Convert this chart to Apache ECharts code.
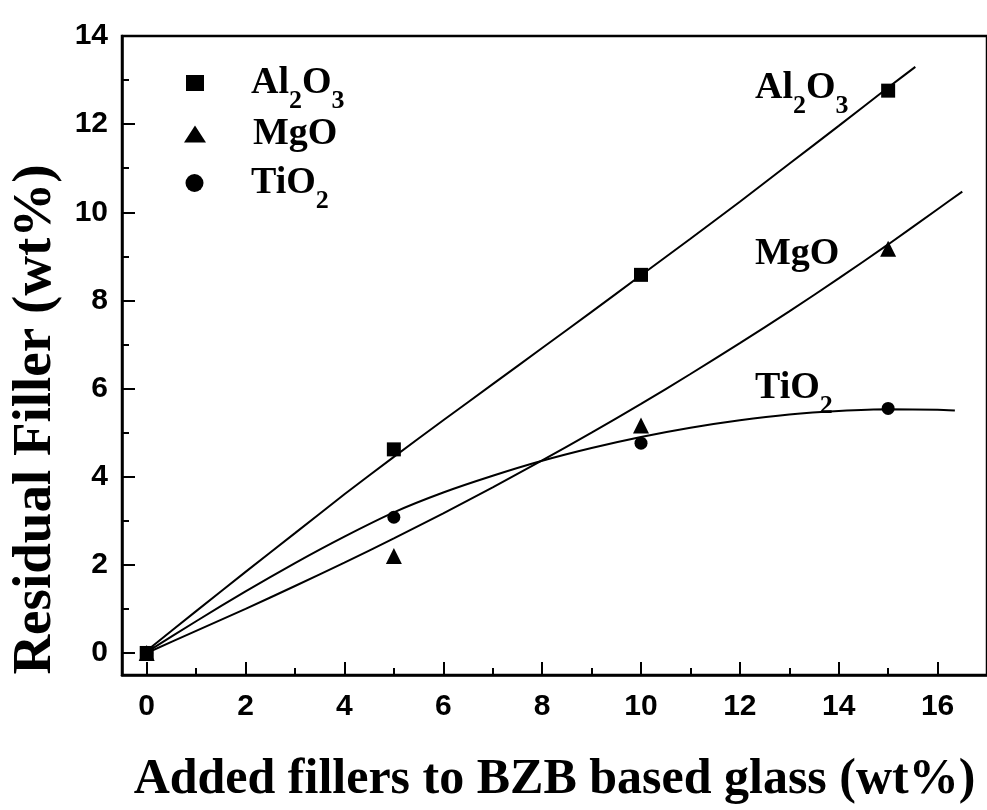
<!DOCTYPE html>
<html>
<head>
<meta charset="utf-8">
<script src="https://cdn.jsdelivr.net/npm/echarts@6/dist/echarts.min.js"></script>
<style>html,body{margin:0;padding:0;background:#fff}#c{width:987px;height:810px}</style>
</head>
<body>
<div id="c"></div>
<script>
// ---- data ----
const addedX = [0, 5, 10, 15];
const al2o3Y = [0, 4.62, 8.58, 12.76];
const mgoY   = [0, 2.2, 5.16, 9.17];
const tio2Y  = [0, 3.08, 4.76, 5.55];

// fitted curves
const al2o3Fit = [[0,0.05],[1,0.95],[2,1.84],[3,2.72],[4,3.6],[5,4.45],[6,5.28],[7,6.1],[8,6.92],[9,7.74],[10,8.57],[11,9.4],[12,10.24],[13,11.1],[14,11.96],[15,12.83],[15.55,13.3]];
const mgoFit   = [[0,0],[1,0.5],[2,1.0],[3,1.52],[4,2.05],[5,2.6],[6,3.17],[7,3.76],[8,4.37],[9,5.0],[10,5.65],[11,6.33],[12,7.03],[13,7.75],[14,8.5],[15,9.27],[16,10.07],[16.5,10.47]];
const tio2Fit  = [[0,0.02],[1,0.72],[2,1.4],[3,2.04],[4,2.64],[5,3.19],[6,3.64],[7,4.02],[8,4.36],[9,4.65],[10,4.9],[11,5.11],[12,5.28],[13,5.41],[14,5.49],[15,5.53],[16,5.52],[16.35,5.5]];

const xTickLabels = [0, 2, 4, 6, 8, 10, 12, 14, 16];
const xMinorTicks = [1, 3, 5, 7, 9, 11, 13, 15];
const yTickLabels = [0, 2, 4, 6, 8, 10, 12, 14];
const yMinorTicks = [1, 3, 5, 7, 9, 11, 13];

const seriesNames = ['Al2O3', 'MgO', 'TiO2'];
const xTitle = 'Added fillers to BZB based glass (wt%)';
const yTitle = 'Residual Filler (wt%)';

// ---- chart ----
const chart = echarts.init(document.getElementById('c'), null, {renderer: 'canvas'});
const serif = '"Liberation Serif", "Times New Roman", serif';
const sans = '"Liberation Sans", Arial, sans-serif';

const richStyles = {
  m: {fontFamily: serif, fontWeight: 'bold', fontSize: 38, lineHeight: 40, color: '#000', verticalAlign: 'middle'},
  s: {fontFamily: serif, fontWeight: 'bold', fontSize: 26, lineHeight: 62, color: '#000', verticalAlign: 'bottom'}
};
const formulaRich = {
  'Al2O3': '{m|Al}{s|2}{m|O}{s|3}',
  'MgO': '{m|MgO}',
  'TiO2': '{m|TiO}{s|2}'
};

function pairs(xs, ys) { return xs.map((x, i) => [x, ys[i]]); }

function mkLegend(name, icon, left, top, w, h) {
  return {
    data: [{name: name, icon: icon}],
    orient: 'vertical', left: left, top: top, padding: 0,
    itemWidth: w, itemHeight: h,
    selectedMode: false,
    itemStyle: {color: '#000', opacity: 1},
    formatter: n => formulaRich[n],
    textStyle: {padding: [0, 0, 0, 42], rich: richStyles}
  };
}

const lineStyle = {color: '#000', width: 2};
const markStyle = {color: '#000', opacity: 1};

const option = {
  animation: false,
  backgroundColor: '#fff',
  grid: {left: 122, top: 36, width: 869.75, height: 644, show: true, borderColor: '#000', borderWidth: 2.5, backgroundColor: 'transparent'},
  legend: [
    mkLegend('Al2O3', 'rect', 186, 64, 18, 16),
    mkLegend('MgO', 'triangle', 184, 115, 22, 17),
    mkLegend('TiO2', 'circle', 185.5, 164, 19, 18)
  ],
  xAxis: [
    {
      type: 'value', min: -0.5, max: 17, position: 'bottom',
      axisLine: {show: true, onZero: false, lineStyle: {color: '#000', width: 2.5}},
      axisTick: {show: true, inside: true, length: 13, lineStyle: {color: '#000', width: 2}, customValues: xTickLabels},
      axisLabel: {customValues: xTickLabels, margin: 17, color: '#000', fontFamily: sans, fontWeight: 'bold', fontSize: 30},
      splitLine: {show: false},
      name: xTitle, nameLocation: 'middle', nameGap: 80,
      nameTextStyle: {fontFamily: serif, fontWeight: 'bold', fontSize: 50, lineHeight: 50, color: '#000'}
    },
    {
      type: 'value', min: -0.5, max: 17, position: 'bottom',
      axisLine: {show: false, onZero: false},
      axisTick: {show: true, inside: true, length: 7, lineStyle: {color: '#000', width: 2}, customValues: xMinorTicks},
      axisLabel: {show: false},
      splitLine: {show: false}
    }
  ],
  yAxis: [
    {
      type: 'value', min: -0.5, max: 14, position: 'left',
      axisLine: {show: true, onZero: false, lineStyle: {color: '#000', width: 2.5}},
      axisTick: {show: true, inside: true, length: 13, lineStyle: {color: '#000', width: 2}, customValues: yTickLabels},
      axisLabel: {customValues: yTickLabels, margin: 14, color: '#000', fontFamily: sans, fontWeight: 'bold', fontSize: 30},
      splitLine: {show: false},
      name: yTitle, nameLocation: 'middle', nameRotate: 90, nameGap: 52,
      nameTextStyle: {fontFamily: serif, fontWeight: 'bold', fontSize: 55, lineHeight: 55, color: '#000', padding: [0, 128, 0, 0]}
    },
    {
      type: 'value', min: -0.5, max: 14, position: 'left',
      axisLine: {show: false, onZero: false},
      axisTick: {show: true, inside: true, length: 7, lineStyle: {color: '#000', width: 2}, customValues: yMinorTicks},
      axisLabel: {show: false},
      splitLine: {show: false}
    }
  ],
  graphic: [
    {type: 'text', left: 755, top: 69, silent: true, style: {text: formulaRich['Al2O3'], rich: richStyles}},
    {type: 'text', left: 755, top: 235, silent: true, style: {text: formulaRich['MgO'], rich: richStyles}},
    {type: 'text', left: 755, top: 369, silent: true, style: {text: formulaRich['TiO2'], rich: richStyles}}
  ],
  series: [
    {name: 'Al2O3 fit', type: 'line', data: al2o3Fit, showSymbol: false, symbol: 'none', smooth: 0.2, lineStyle: lineStyle, silent: true, z: 2},
    {name: 'MgO fit', type: 'line', data: mgoFit, showSymbol: false, symbol: 'none', smooth: 0.2, lineStyle: lineStyle, silent: true, z: 2},
    {name: 'TiO2 fit', type: 'line', data: tio2Fit, showSymbol: false, symbol: 'none', smooth: 0.2, lineStyle: lineStyle, silent: true, z: 2},
    {name: seriesNames[0], type: 'scatter', data: pairs(addedX, al2o3Y), symbol: 'rect', symbolSize: 14, itemStyle: markStyle, z: 3},
    {name: seriesNames[1], type: 'scatter', data: pairs(addedX, mgoY), symbol: 'triangle', symbolSize: 16, itemStyle: markStyle, z: 3},
    {name: seriesNames[2], type: 'scatter', data: pairs(addedX, tio2Y), symbol: 'circle', symbolSize: 13, itemStyle: markStyle, z: 3}
  ]
};
chart.setOption(option);
</script>
</body>
</html>
